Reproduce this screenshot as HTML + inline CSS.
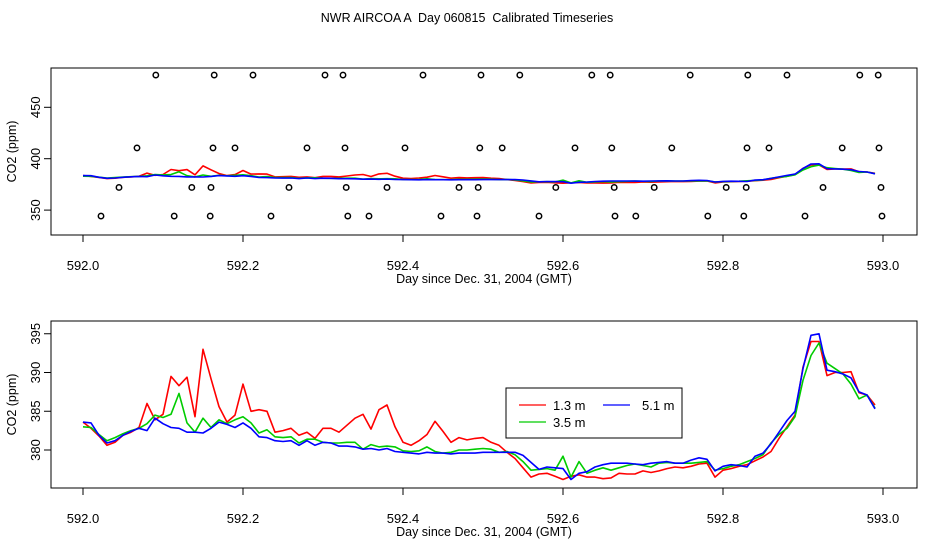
<!DOCTYPE html>
<html><head><meta charset="utf-8"><style>
body{margin:0;background:#fff;}
svg{display:block;font-family:"Liberation Sans",sans-serif;}
</style></head><body>
<svg id="chart" width="936" height="540" viewBox="0 0 936 540">
<rect width="936" height="540" fill="#fff"/>
<text x="467" y="22" text-anchor="middle" font-size="12.5" style="white-space:pre" xml:space="preserve">NWR AIRCOA A  Day 060815  Calibrated Timeseries</text>
<g id="top"></g>
<g id="bot"></g>
</svg>
<script>
const days = [];
for (let i = 0; i < 100; i++) days.push(592 + i * 0.01);
const red13 = [383.6,382.8,381.8,380.6,381.0,381.9,382.3,382.9,386.0,383.9,384.6,389.5,388.3,389.4,384.3,393.0,389.2,385.6,383.6,384.5,388.5,385.0,385.2,385.0,382.3,382.5,382.8,381.9,382.3,381.5,382.8,382.8,382.3,383.2,384.1,384.6,382.7,385.2,385.8,383.0,381.0,380.6,381.2,382.0,383.7,382.4,381.0,381.6,381.3,381.5,381.6,381.0,380.6,379.7,378.9,377.7,376.5,376.9,377.0,376.6,376.2,376.6,376.8,376.5,376.5,376.3,376.4,377.0,376.9,376.9,377.3,377.1,377.3,377.6,377.8,377.7,377.9,378.2,378.3,376.5,377.4,377.6,377.9,378.1,378.6,379.1,379.8,381.5,383.0,384.5,390.7,394.0,394.0,389.6,390.0,390.0,390.1,387.4,387.1,385.8];
const green35 = [383.0,382.9,382.0,381.2,381.6,382.1,382.5,382.8,383.4,384.5,384.2,384.6,387.3,383.5,382.3,384.1,382.9,383.9,383.4,383.9,384.3,383.5,382.2,382.6,381.7,381.6,381.7,380.9,381.4,381.4,381.0,380.9,380.9,381.0,381.0,380.1,380.7,380.4,380.5,380.4,379.9,379.8,379.9,380.4,379.8,379.6,379.7,380.0,380.0,380.1,380.2,380.1,379.7,379.8,379.4,378.5,377.4,377.5,377.6,377.4,379.2,376.5,378.5,377.0,377.4,377.7,377.4,377.7,378.0,378.2,378.0,377.8,378.3,378.4,378.3,378.3,378.3,378.4,378.5,377.4,377.6,377.9,378.1,378.5,378.9,379.4,380.9,382.0,382.8,384.3,389.0,392.2,393.8,391.2,390.5,389.8,388.5,386.6,387.1,385.4];
const blue51 = [383.6,383.5,381.9,380.9,381.2,381.9,382.4,382.8,382.5,384.1,383.4,382.9,382.8,382.3,382.3,382.2,382.8,383.6,383.3,382.9,383.5,382.8,381.7,381.6,381.2,381.1,381.2,380.6,381.2,380.6,381.0,380.9,380.5,380.5,380.4,380.1,380.2,380.0,380.2,379.8,379.7,379.6,379.5,379.7,379.6,379.6,379.5,379.6,379.6,379.6,379.7,379.7,379.7,379.7,379.7,379.3,378.4,377.5,377.8,377.7,377.6,376.2,377.0,377.2,377.8,378.1,378.3,378.3,378.3,378.2,378.1,378.3,378.4,378.5,378.3,378.3,378.7,379.0,378.8,377.3,377.9,378.1,378.0,377.8,379.2,379.6,380.8,382.3,383.8,385.0,390.5,394.8,395.0,390.3,390.1,389.8,389.3,387.5,387.1,385.3];
const calDays480 = [592.091,592.164,592.2125,592.3025,592.325,592.425,592.4975,592.546,592.636,592.659,592.759,592.831,592.88,592.971,592.994];
const calDays410 = [592.0675,592.1625,592.19,592.28,592.3275,592.4025,592.496,592.524,592.615,592.661,592.736,592.83,592.8575,592.949,592.995];
const calDays372 = [592.045,592.136,592.16,592.2575,592.329,592.38,592.47,592.494,592.591,592.664,592.714,592.804,592.829,592.925,592.9975];
const calDays344 = [592.0225,592.114,592.159,592.235,592.331,592.3575,592.4475,592.4925,592.57,592.665,592.691,592.781,592.826,592.9025,592.99875];
const calLevels = [481.4, 410.5, 372.0, 344.2];
const xTicks = [592.0, 592.2, 592.4, 592.6, 592.8, 593.0];
const topYTicks = [350, 400, 450];
const botYTicks = [380, 385, 390, 395];

const NS = "http://www.w3.org/2000/svg";
function mk(tag, attrs, parent){const e=document.createElementNS(NS,tag);for(const k in attrs)e.setAttribute(k,attrs[k]);parent.appendChild(e);return e;}
const xs = d => 83 + (d - 592) * 800;
const yTop = v => 158.7 - (v - 400) * 1.028;
const yBot = v => 450 - (v - 380) * 7.75;

function panel(g, top, bottom, yf, yticks){
  const fr = mk('rect',{x:51,y:top,width:866,height:bottom-top,fill:'none',stroke:'#000','stroke-width':1},g);
  
  
  xTicks.forEach(t=>{
    const x=xs(t);
    const l=mk('line',{x1:x,x2:x,y1:bottom,y2:bottom+7,stroke:'#000'},g);
    
    
    const tx=mk('text',{x:x,y:bottom+35,'text-anchor':'middle','font-size':13},g);
    tx.textContent=t.toFixed(1);
    
    
  });
  yticks.forEach(t=>{
    const y=yf(t);
    const l=mk('line',{x1:44,x2:51,y1:y,y2:y,stroke:'#000'},g);
    
    
    const tx=mk('text',{x:0,y:0,'text-anchor':'middle','font-size':13,transform:`translate(40,${y}) rotate(-90)`},g);
    tx.textContent=String(t);
    
    
  });
  const xt=mk('text',{x:484,y:bottom+48,'text-anchor':'middle','font-size':12.5},g);
  xt.textContent='Day since Dec. 31, 2004 (GMT)';
  
  
  const yt=mk('text',{x:0,y:0,'text-anchor':'middle','font-size':12.5,transform:`translate(16,${(top+bottom)/2}) rotate(-90)`},g);
  yt.textContent='CO2 (ppm)';
  
  
}
function series(g, vals, yf, color, w, name){
  const p=mk('polyline',{points:vals.map((v,i)=>xs(days[i]).toFixed(1)+','+yf(v).toFixed(1)).join(' '),fill:'none',stroke:color,'stroke-width':w,'stroke-linejoin':'round'},g);
  
  
}
const gT=document.getElementById('top'), gB=document.getElementById('bot');
panel(gT,68,235,yTop,topYTicks);
[calDays480,calDays410,calDays372,calDays344].forEach((arr,k)=>{
  arr.forEach(d=>{
    const c=mk('circle',{cx:xs(d),cy:yTop(calLevels[k]),r:2.7,fill:'none',stroke:'#000','stroke-width':1.5},gT);
    
    
  });
});
series(gT,red13,yTop,'#f00',1.6,'line-1-3m-top');
series(gT,green35,yTop,'#0c0',1.6,'line-3-5m-top');
series(gT,blue51,yTop,'#00f',1.6,'line-5-1m-top');

panel(gB,321,488,yBot,botYTicks);
series(gB,red13,yBot,'#f00',1.6,'line-1-3m');
series(gB,green35,yBot,'#0c0',1.6,'line-3-5m');
series(gB,blue51,yBot,'#00f',1.6,'line-5-1m');

const lg=mk('g',{},gB);


mk('rect',{x:506,y:388,width:176,height:50,fill:'#fff',stroke:'#000'},lg);
[['#f00',519,405,'1.3 m',553,'legend-entry-1-3m'],['#00f',603,405,'5.1 m',642,'legend-entry-5-1m'],['#0c0',519,422,'3.5 m',553,'legend-entry-3-5m']].forEach(e=>{
  const eg=mk('g',{},lg);
  
  
  mk('line',{x1:e[1],x2:e[1]+27,y1:e[2],y2:e[2],stroke:e[0],'stroke-width':1.2},eg);
  const t=mk('text',{x:e[4],y:e[2]+5,'font-size':13},eg);
  t.textContent=e[3];
});
</script>
</body></html>
